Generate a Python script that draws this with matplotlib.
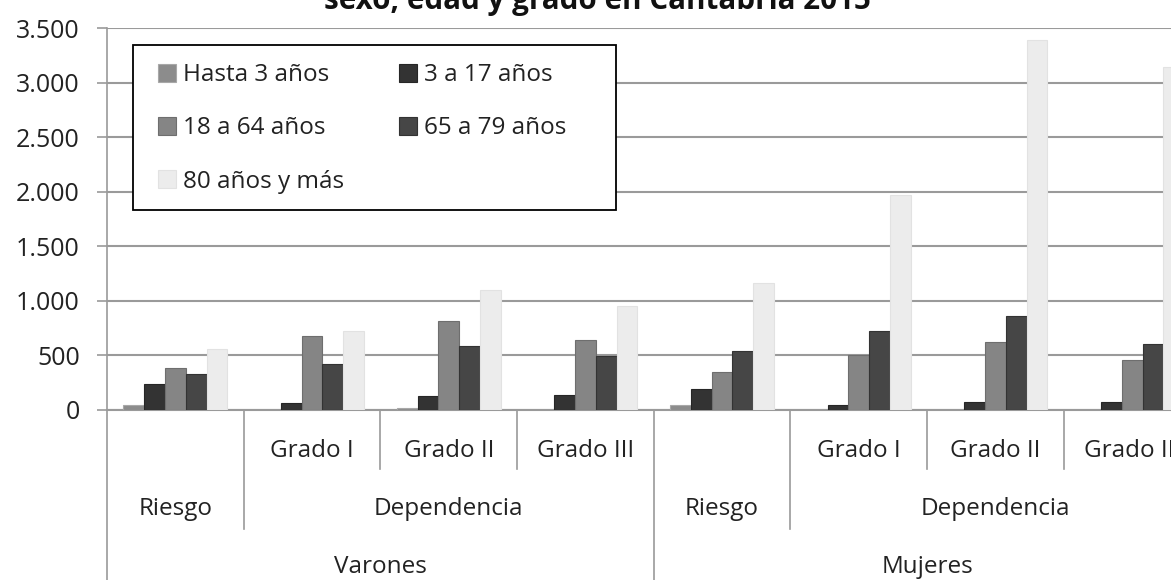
import matplotlib
matplotlib.use('Agg')
import matplotlib.pyplot as plt
from matplotlib.patches import Rectangle
from matplotlib.transforms import blended_transform_factory
import numpy as np

plt.rcParams['font.family'] = ['Open Sans', 'DejaVu Sans']

# categories (left to right) and their hierarchical labels
grados = ['', 'Grado I', 'Grado II', 'Grado III', '', 'Grado I', 'Grado II', 'Grado III']
tipos = ['Riesgo', 'Dependencia', 'Riesgo', 'Dependencia']
tipo_pos = [0, 2, 4, 6]
sexos = ['Varones', 'Mujeres']
sexo_pos = [1.5, 5.5]

series = ['Hasta 3 años', '3 a 17 años', '18 a 64 años', '65 a 79 años', '80 años y más']
hasta3 = [41, 0, 17, 0, 40, 0, 0, 0]
de3a17 = [231, 57, 121, 136, 189, 40, 67, 67]
de18a64 = [378, 675, 810, 636, 340, 496, 621, 459]
de65a79 = [323, 421, 581, 494, 538, 717, 854, 597]
mas80 = [556, 718, 1095, 948, 1160, 1971, 3392, 3147]
values = [hasta3, de3a17, de18a64, de65a79, mas80]

colors = ['#8c8c8c', '#333333', '#858585', '#464646', '#ececec']
edges = ['#a8a8a8', '#262626', '#6e6e6e', '#333333', '#e2e2e2']

W, H = 1171, 580
fig = plt.figure(figsize=(W / 100, H / 100), dpi=100)
# axes extends past right edge of the figure, as in the (cropped) original
ax = fig.add_axes([107 / W, 1 - 409.5 / H, (1200.5 - 107) / W, (409.5 - 28.3) / H])

x = np.arange(len(grados))
bw = 0.152
bars = []
for i, (vals, c, ec) in enumerate(zip(values, colors, edges)):
    b = ax.bar(x + (i - 2) * bw, vals, bw, color=c, edgecolor=ec, linewidth=0.8,
               label=series[i], zorder=3)
    bars.append(b)

ax.set_xlim(-0.5, 7.5)
ax.set_ylim(0, 3500)
ax.set_yticks(range(0, 3501, 500))
ax.set_yticklabels([f'{v:,}'.replace(',', '.') for v in range(0, 3501, 500)], fontsize=18,
                   color='#222222')
ax.tick_params(axis='y', length=7, width=1.2, color='#9a9a9a', pad=12.5)
ax.set_xticks([])
ax.grid(axis='y', color='#9a9a9a', linewidth=1.5, zorder=0)
ax.set_axisbelow(True)
for s in ['top', 'right']:
    ax.spines[s].set_visible(False)
ax.spines['left'].set_color('#9a9a9a')
ax.spines['left'].set_linewidth(1.2)
ax.spines['bottom'].set_color('#9a9a9a')
ax.spines['bottom'].set_linewidth(1.5)

# hierarchical category axis below the bars
tr = blended_transform_factory(ax.transData, fig.transFigure)
def fy(py):
    return 1 - py / H

div_bottom = {-0.5: 580, 0.5: 529, 1.5: 469, 2.5: 469, 3.5: 580, 4.5: 529, 5.5: 469, 6.5: 469, 7.5: 580}
for xd, yb in div_bottom.items():
    ax.plot([xd, xd], [fy(409.5), fy(yb)], transform=tr, color='#9a9a9a', lw=1.2,
            clip_on=False, zorder=1)

for xi, g in zip(x, grados):
    if g:
        ax.text(xi, fy(451), g, transform=tr, ha='center', va='center', fontsize=17.5,
                color='#222222', clip_on=False)
for xp, t in zip(tipo_pos, tipos):
    ax.text(xp, fy(509), t, transform=tr, ha='center', va='center', fontsize=17.5,
            color='#222222', clip_on=False)
for xp, s in zip(sexo_pos, sexos):
    ax.text(xp, fy(567), s, transform=tr, ha='center', va='center', fontsize=17.5,
            color='#222222', clip_on=False)

# title (top half cut off in the original)
fig.text(597 / W, fy(9.5), 'sexo, edad y grado en Cantabria 2015', ha='center', va='baseline',
         fontsize=21.3, fontweight='bold', color='#111111')

# legend box + legend
fig.patches.append(Rectangle((133 / W, fy(210)), (616 - 133) / W, (210 - 45) / H,
                             transform=fig.transFigure, facecolor='white', edgecolor='black',
                             linewidth=1.3, zorder=2))
order = [0, 2, 4, 1, 3]
leg = fig.legend([bars[i] for i in order], [series[i] for i in order], ncol=2,
                 loc='center left', bbox_to_anchor=(158 / W, fy(128.5)),
                 bbox_transform=fig.transFigure, frameon=False, fontsize=17.5,
                 handlelength=0.75, handleheight=0.75, handletextpad=0.28,
                 labelspacing=1.2, columnspacing=2.25, borderpad=0, borderaxespad=0)
leg.set_zorder(3)
for t in leg.get_texts():
    t.set_color('#222222')

fig.savefig('out.png', dpi=100)
